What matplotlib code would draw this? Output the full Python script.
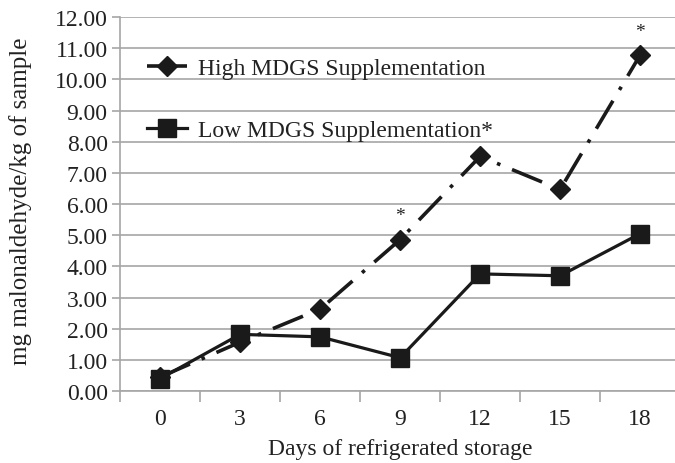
import matplotlib
matplotlib.use("Agg")
import matplotlib.pyplot as plt
from matplotlib.ticker import FixedLocator, FormatStrFormatter

days = ["0", "3", "6", "9", "12", "15", "18"]
high = [0.45, 1.57, 2.63, 4.86, 7.53, 6.47, 10.78]
low = [0.40, 1.82, 1.74, 1.07, 3.76, 3.70, 5.05]
y_ticks = [0, 1, 2, 3, 4, 5, 6, 7, 8, 9, 10, 11, 12]
high_label = "High MDGS Supplementation"
low_label = "Low MDGS Supplementation*"
starred_high = [3, 6]  # indices with asterisk above high series

plt.rcParams['font.family'] = ['Liberation Serif', 'DejaVu Serif']

fig = plt.figure(figsize=(6.75, 4.64), dpi=100)
ax = fig.add_axes([0.178, 0.155, 0.8296, 0.806])

x = list(range(len(days)))
grid_c = "#a6a6a6"
txt_c = "#222222"
fs = 17

ax.set_axisbelow(True)
ax.yaxis.grid(True, color=grid_c, linewidth=1.2)

lh, = ax.plot(x, high, color="#1a1a1a", linewidth=2.6, dashes=(9, 3.5, 1, 3.5),
              marker="D", markersize=10, label=high_label, zorder=3)
ll, = ax.plot(x, low, color="#1a1a1a", linewidth=2.3, linestyle="-",
              marker="s", markersize=13, label=low_label, zorder=4)

for i in starred_high:
    ax.annotate("*", (x[i], high[i]), xytext=(0, 11), textcoords="offset points",
                ha="center", va="bottom", fontsize=14, color=txt_c)

ax.set_xlim(-0.5, len(days) - 0.5)
ax.set_ylim(0, 12)
ax.set_yticks(y_ticks)
ax.yaxis.set_major_formatter(FormatStrFormatter("%.2f"))
ax.set_xticks(x)
ax.set_xticklabels(days)
ax.xaxis.set_minor_locator(FixedLocator([i - 0.5 for i in range(len(days) + 1)]))
ax.tick_params(axis="x", which="major", length=0, pad=12, labelsize=fs, colors=txt_c)
ax.tick_params(axis="x", which="minor", length=8, width=1.2, color=grid_c, direction="out")
ax.tick_params(axis="y", length=6, width=1.2, color=grid_c, labelsize=fs, pad=3, labelcolor=txt_c)

for s in ["top", "right"]:
    ax.spines[s].set_visible(False)
for s in ["left", "bottom"]:
    ax.spines[s].set_color(grid_c)
    ax.spines[s].set_linewidth(1.2)

ax.set_xlabel("Days of refrigerated storage", fontsize=fs, color=txt_c, labelpad=7)
ax.set_ylabel("mg malonaldehyde/kg of sample", fontsize=18, color=txt_c)
ax.yaxis.set_label_coords(-0.158, 0.51)

leg = ax.legend(handles=[lh, ll], loc="upper left", bbox_to_anchor=(0.01, 0.948),
                frameon=False, fontsize=fs, handlelength=1.7, handletextpad=0.45,
                labelspacing=1.7, markerscale=1.0)
for t in leg.get_texts():
    t.set_color(txt_c)
leg.legend_handles[0].set_dashes((10, 0))

fig.savefig("out.png", dpi=100, facecolor="white")
